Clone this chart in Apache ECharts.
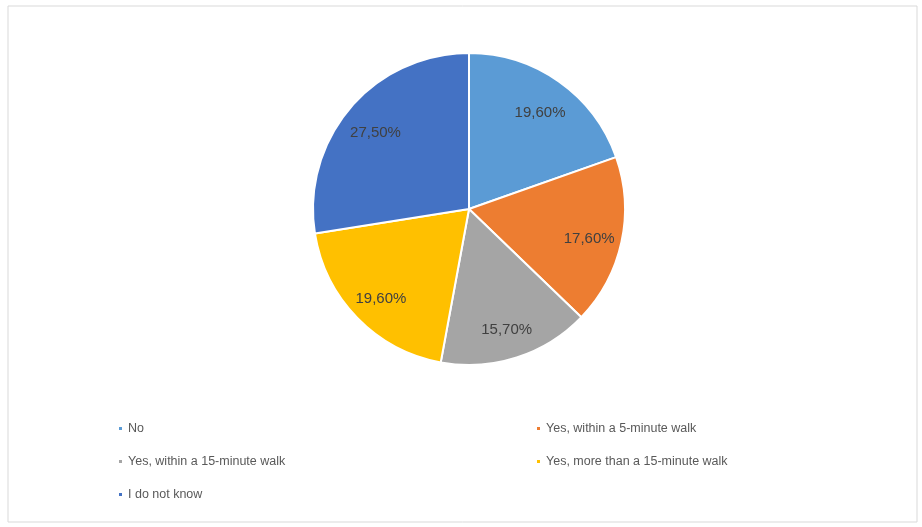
<!DOCTYPE html>
<html>
<head>
<meta charset="utf-8">
<style>
	html, body { margin: 0; padding: 0; background: #fff; }
	#chart { width: 922px; height: 527px; }
</style>
<script src="https://cdn.jsdelivr.net/npm/echarts@6/dist/echarts.min.js"></script>
</head>
<body>
<div id="chart"></div>
<script>
const categories = ['No', 'Yes, within a 5-minute walk', 'Yes, within a 15-minute walk', 'Yes, more than a 15-minute walk', 'I do not know']
const values = [19.6, 17.6, 15.7, 19.6, 27.5]
const colors = ['#5B9BD5', '#ED7D31', '#A5A5A5', '#FFC000', '#4472C4']

const myChart = echarts.init(document.getElementById('chart'), null, { renderer: 'canvas' })

const pieData = categories.map((name, i) => ({ name: name, value: values[i], itemStyle: { color: colors[i] } }))
const fmt = (p) => p.value.toFixed(2).replace('.', ',') + '%'
const font = '"Liberation Sans", sans-serif'

const legendStyle = {
	orient: 'vertical',
	top: 417,
	itemWidth: 5,
	itemHeight: 5,
	itemGap: 20,
	icon: 'rect',
	textStyle: { color: '#595959', fontSize: 12.5, fontFamily: font },
}

let option = {
	animation: false,
	graphic: [
		{
			type: 'rect',
			shape: { x: 8, y: 6, width: 909, height: 516 },
			style: { fill: 'none', stroke: '#D9D9D9', lineWidth: 1 },
			silent: true,
		},
	],
	legend: [
		Object.assign({ data: [categories[0], categories[2], categories[4]], left: 112 }, legendStyle),
		Object.assign({ data: [categories[1], categories[3]], left: 530 }, legendStyle),
	],
	series: [
		{
			name: 'slices',
			type: 'pie',
			center: [469, 209],
			radius: [0, 156],
			startAngle: 90,
			clockwise: true,
			data: pieData,
			itemStyle: { borderColor: '#fff', borderWidth: 2 },
			label: { show: false },
			labelLine: { show: false },
		},
		{
			name: 'labels',
			type: 'pie',
			center: [469, 209],
			radius: [84, 156],
			startAngle: 90,
			clockwise: true,
			silent: true,
			data: pieData.map((d) => ({ name: d.name, value: d.value, itemStyle: { color: 'rgba(0,0,0,0)' } })),
			label: {
				show: true,
				position: 'inside',
				formatter: fmt,
				offset: [0, 4],
				color: '#404040',
				fontSize: 15,
				fontFamily: font,
			},
			labelLine: { show: false },
			z: 3,
		},
	],
}
myChart.setOption(option)

window.addEventListener('resize', () => {
	myChart.resize()
})
</script>
</body>
</html>
